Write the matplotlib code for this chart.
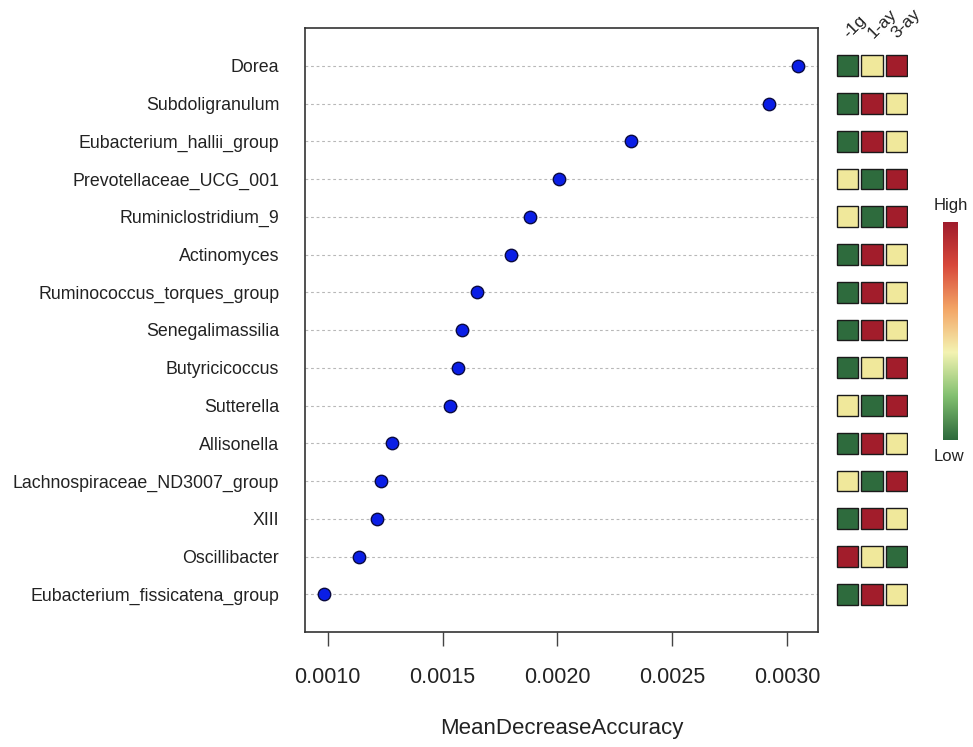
import numpy as np
import matplotlib
matplotlib.use("Agg")
import matplotlib.pyplot as plt
from matplotlib.patches import Rectangle
from matplotlib.colors import LinearSegmentedColormap

plt.rcParams['font.family'] = ['Liberation Sans', 'DejaVu Sans']

# Признаки (сверху вниз) и значения MeanDecreaseAccuracy
taxa = ["Dorea", "Subdoligranulum", "Eubacterium_hallii_group",
        "Prevotellaceae_UCG_001", "Ruminiclostridium_9", "Actinomyces",
        "Ruminococcus_torques_group", "Senegalimassilia", "Butyricicoccus",
        "Sutterella", "Allisonella", "Lachnospiraceae_ND3007_group", "XIII",
        "Oscillibacter", "Eubacterium_fissicatena_group"]
mda = [0.003046, 0.002920, 0.002320, 0.002007, 0.001880, 0.001798,
       0.001650, 0.001585, 0.001567, 0.001533, 0.001280, 0.001233,
       0.001215, 0.001137, 0.000985]

# Уровни по группам: 0 - low, 1 - mid, 2 - high
groups = ["-1g", "1-ay", "3-ay"]
levels = [[0, 1, 2], [0, 2, 1], [0, 2, 1], [1, 0, 2], [1, 0, 2],
          [0, 2, 1], [0, 2, 1], [0, 2, 1], [0, 1, 2], [1, 0, 2],
          [0, 2, 1], [1, 0, 2], [0, 2, 1], [2, 1, 0], [0, 2, 1]]
xticks = [0.0010, 0.0015, 0.0020, 0.0025, 0.0030]

level_colors = ["#2e6b3d", "#f0e89b", "#a21d2b"]
cmap = LinearSegmentedColormap.from_list(
    "gyr", ["#2d6a3c", "#82c070", "#f4f3b2", "#f3a566", "#d8483b", "#9e1b2c"])

W, H = 973, 747
fig = plt.figure(figsize=(W / 100, H / 100), dpi=100)

n = len(taxa)
ypos = np.arange(n, 0, -1)

# Основной dotchart
ax = fig.add_axes([305 / W, 1 - 632 / H, (818 - 305) / W, (632 - 28) / H])
for y in ypos:
    ax.axhline(y, color="#b8b8b8", lw=0.8, ls=(0, (2.5, 2.5)), zorder=1)
ax.scatter(mda, ypos, s=80, facecolor="#0a1ee6", edgecolor="#0a0a40",
           linewidth=1.0, zorder=3)
ax.set_xlim(0.000902, 0.003133)
ax.set_ylim(0, n + 1)
ax.set_yticks(ypos)
ax.set_yticklabels(taxa, fontsize=12.8, color="#222222")
ax.tick_params(axis="y", left=False, pad=15)
ax.set_xticks(xticks)
ax.set_xticklabels(["%.4f" % v for v in xticks], fontsize=15.5, color="#222222")
ax.tick_params(axis="x", length=10, width=1, color="#444444", pad=15)
for s in ax.spines.values():
    s.set_linewidth(1.2)
    s.set_color("#333333")
ax.set_xlabel("MeanDecreaseAccuracy", fontsize=16, color="#222222", labelpad=22)

# Тепловая карта уровней
hx = fig.add_axes([835.7 / W, 1 - 632 / H, 72.6 / W, (632 - 28) / H])
hx.set_xlim(0.5, 3.5)
hx.set_ylim(0, n + 1)
hx.axis("off")
sw, sh = 0.868, 0.556
for row, y in zip(levels, ypos):
    for j, lv in enumerate(row):
        hx.add_patch(Rectangle((j + 1 - sw / 2, y - sh / 2), sw, sh,
                               facecolor=level_colors[lv], edgecolor="#1a1a1a",
                               linewidth=1.0))
for j, g in enumerate(groups):
    hx.text(j + 1 + 0.05, 15.7, g, rotation=45, rotation_mode="anchor",
            ha="left", va="baseline", fontsize=12.5, color="#222222", clip_on=False)

# Цветовая шкала
cx = fig.add_axes([942.7 / W, 1 - 440 / H, 15 / W, 218 / H])
cx.imshow(np.linspace(0, 1, 256)[:, None], origin="lower", aspect="auto", cmap=cmap)
cx.axis("off")
fig.text(951 / W, 1 - 205 / H, "High", ha="center", va="center", fontsize=12,
         color="#222222")
fig.text(949 / W, 1 - 457 / H, "Low", ha="center", va="center", fontsize=12,
         color="#222222")

fig.savefig("out.png", dpi=100)
